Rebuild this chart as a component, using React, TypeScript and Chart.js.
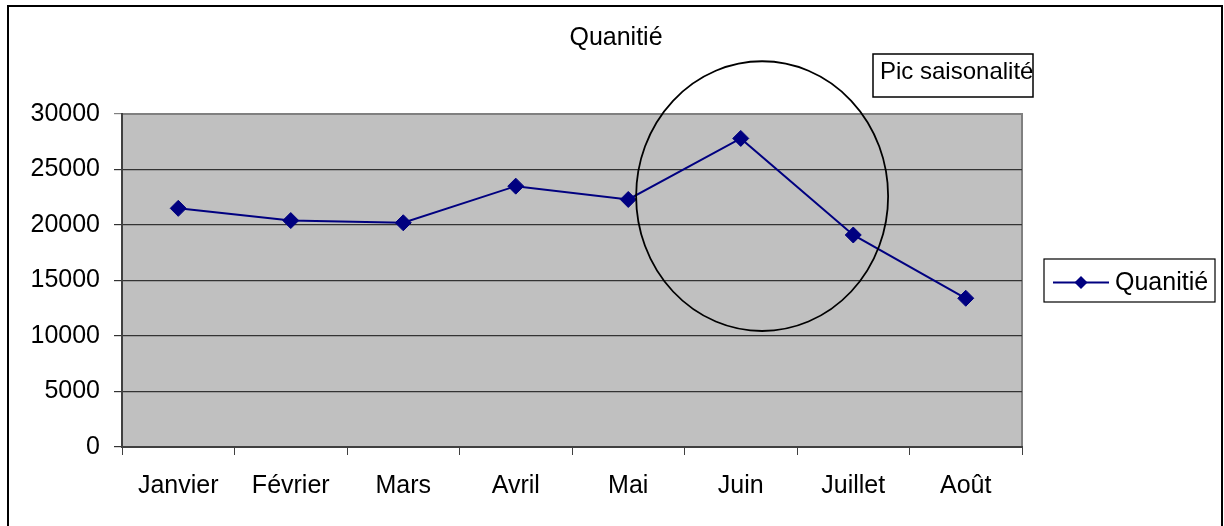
import { useEffect, useRef } from "react";
import { Chart, registerables } from "chart.js";

Chart.register(...registerables);

const categories = ["Janvier", "Février", "Mars", "Avril", "Mai", "Juin", "Juillet", "Août"];
const quantities = [21500, 20400, 20200, 23500, 22300, 27800, 19100, 13400];
const seriesLabel = "Quanitié";
const chartTitle = "Quanitié";
const calloutText = "Pic saisonalité";
const yMin = 0;
const yMax = 30000;
const yStep = 5000;

const FONT = '"Liberation Sans", Arial, sans-serif';
const LINE_COLOR = "#000080";

const decorPlugin = {
  id: "decor",
  beforeDraw(chart: any) {
    const { ctx, chartArea } = chart;
    ctx.save();
    ctx.fillStyle = "#ffffff";
    ctx.fillRect(0, 0, chart.width, chart.height);
    ctx.fillStyle = "#C0C0C0";
    ctx.fillRect(chartArea.left, chartArea.top, chartArea.right - chartArea.left, chartArea.bottom - chartArea.top);
    ctx.strokeStyle = "#808080";
    ctx.lineWidth = 2;
    ctx.strokeRect(chartArea.left, chartArea.top, chartArea.right - chartArea.left, chartArea.bottom - chartArea.top);
    ctx.restore();
  },
  afterDraw(chart: any) {
    const { ctx } = chart;
    const xs = chart.scales.x;
    const ys = chart.scales.y;
    ctx.save();
    // outer frame
    ctx.strokeStyle = "#000000";
    ctx.lineWidth = 2;
    ctx.strokeRect(8, 6, 1214, 540);

    // title
    ctx.fillStyle = "#000000";
    ctx.font = `25px ${FONT}`;
    ctx.textAlign = "center";
    ctx.textBaseline = "middle";
    ctx.fillText(chartTitle, 616, 38);

    // ellipse around the peak
    const catW = xs.getPixelForValue(1) - xs.getPixelForValue(0);
    const cx = xs.getPixelForValue(5) + 0.19 * catW;
    const cy = ys.getPixelForValue(22600);
    const rx = 1.12 * catW;
    const ry = Math.abs(ys.getPixelForValue(12150) - ys.getPixelForValue(0));
    ctx.beginPath();
    ctx.ellipse(cx, cy, rx, ry, 0, 0, Math.PI * 2);
    ctx.strokeStyle = "#000000";
    ctx.lineWidth = 1.8;
    ctx.stroke();

    // callout box
    ctx.fillStyle = "#ffffff";
    ctx.fillRect(873, 54, 160, 43);
    ctx.strokeStyle = "#000000";
    ctx.lineWidth = 1.5;
    ctx.strokeRect(873, 54, 160, 43);
    ctx.fillStyle = "#000000";
    ctx.textAlign = "left";
    ctx.textBaseline = "middle";
    ctx.font = `24px ${FONT}`;
    ctx.fillText(calloutText, 880, 72);

    // legend
    ctx.strokeStyle = "#000000";
    ctx.lineWidth = 1.2;
    ctx.strokeRect(1044, 259, 171, 43);
    ctx.strokeStyle = LINE_COLOR;
    ctx.lineWidth = 2;
    ctx.beginPath();
    ctx.moveTo(1053, 282.5);
    ctx.lineTo(1109, 282.5);
    ctx.stroke();
    ctx.fillStyle = LINE_COLOR;
    ctx.beginPath();
    ctx.moveTo(1081, 276);
    ctx.lineTo(1087.5, 282.5);
    ctx.lineTo(1081, 289);
    ctx.lineTo(1074.5, 282.5);
    ctx.closePath();
    ctx.fill();
    ctx.fillStyle = "#000000";
    ctx.font = `25px ${FONT}`;
    ctx.fillText(seriesLabel, 1115, 283);
    ctx.restore();
  },
};

export default function App() {
  const ref = useRef<HTMLCanvasElement | null>(null);
  useEffect(() => {
    if (!ref.current) return;
    const chart = new Chart(ref.current, {
      type: "line",
      data: {
        labels: categories,
        datasets: [
          {
            label: seriesLabel,
            data: quantities,
            borderColor: LINE_COLOR,
            backgroundColor: LINE_COLOR,
            borderWidth: 2,
            tension: 0,
            pointStyle: "rectRot",
            pointRadius: 8,
            pointBackgroundColor: LINE_COLOR,
            pointBorderColor: LINE_COLOR,
            pointBorderWidth: 1,
          },
        ],
      },
      options: {
        responsive: false,
        animation: false,
        devicePixelRatio: 1,
        layout: { padding: { top: 114, right: 202, left: 0, bottom: 0 } },
        plugins: {
          legend: { display: false },
          title: { display: false },
          tooltip: { enabled: false },
        },
        scales: {
          x: {
            offset: true,
            grid: {
              offset: true,
              drawOnChartArea: false,
              drawTicks: true,
              tickLength: 8,
              color: "#404040",
            },
            border: { display: true, color: "#404040", width: 2 },
            ticks: {
              color: "#000000",
              padding: 16,
              maxRotation: 0,
              autoSkip: false,
              font: { family: FONT, size: 25 },
            },
            afterFit(scale: any) {
              scale.height = 79;
            },
          },
          y: {
            min: yMin,
            max: yMax,
            grid: {
              color: (c: any) => (c.tick && c.tick.value === yMax ? "#808080" : "#333333"),
              lineWidth: 1.2,
              tickLength: 8,
              drawTicks: true,
            },
            border: { display: true, color: "#404040", width: 2 },
            ticks: {
              stepSize: yStep,
              color: "#000000",
              padding: 14,
              font: { family: FONT, size: 25 },
              callback: (v: any) => String(v),
            },
            afterFit(scale: any) {
              scale.width = 122;
            },
          },
        },
      },
      plugins: [decorPlugin],
    });
    return () => chart.destroy();
  }, []);
  return (
    <div style={{ position: "absolute", left: 0, top: 0, width: 1224, height: 526 }}>
      <canvas ref={ref} width={1224} height={526} style={{ display: "block", width: 1224, height: 526 }} />
    </div>
  );
}
